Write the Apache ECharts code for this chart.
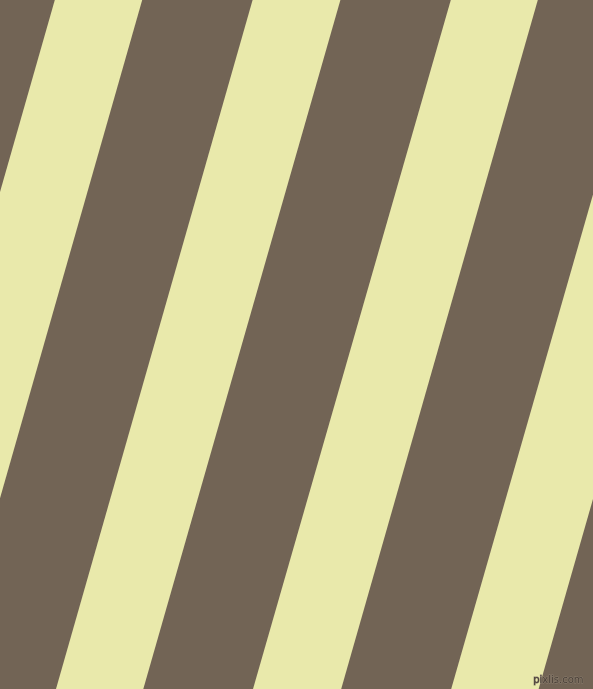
<!DOCTYPE html>
<html><head><meta charset="utf-8">
<script src="https://cdn.jsdelivr.net/npm/echarts@6/dist/echarts.min.js"></script>
<style>html,body{margin:0;padding:0;background:#726455;}#c{width:593px;height:689px;}</style>
</head><body><div id="c"></div>
<script>
// Light stripes: x where each stripe meets the top edge (y=0) and bottom edge (y=689)
const topLeft = [54.8, 252.6, 450.8, 648.8];
const topRight = [142.2, 340.4, 537.8, 735.8];
const bottomLeft = [-141.8, 56.0, 253.0, 451.2];
const bottomRight = [-54.4, 143.3, 341.2, 538.6];
const watermark = 'pixlis.com';

const data = topLeft.map((v, i) => [v, topRight[i], bottomLeft[i], bottomRight[i]]);
const chart = echarts.init(document.getElementById('c'), null, {renderer: 'canvas'});
chart.setOption({
  backgroundColor: '#726455',
  animation: false,
  grid: {left: 0, right: 0, top: 0, bottom: 0},
  xAxis: {type: 'value', min: 0, max: 593, show: false},
  yAxis: {type: 'value', min: 0, max: 689, inverse: true, show: false},
  graphic: [{
    type: 'text', right: 9, bottom: 3, z: 10,
    style: {text: watermark, fontSize: 10, fontFamily: 'DejaVu Sans', fill: '#4a4038', stroke: '#8c7f70', lineWidth: 1}
  }],
  series: [{
    type: 'custom',
    clip: true,
    renderItem: function (params, api) {
      const tl = api.coord([api.value(0), 0]);
      const tr = api.coord([api.value(1), 0]);
      const br = api.coord([api.value(3), 689]);
      const bl = api.coord([api.value(2), 689]);
      return {
        type: 'polygon',
        shape: {points: [tl, tr, br, bl]},
        style: {fill: '#e9e9ab', stroke: null}
      };
    },
    data: data
  }]
});
</script></body></html>
